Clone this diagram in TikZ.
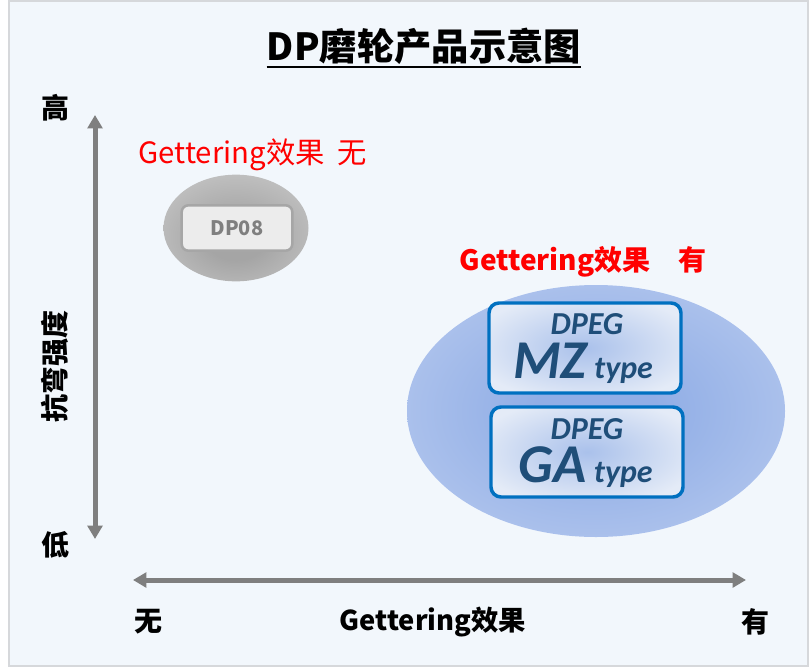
\documentclass[tikz,border=0pt]{standalone}
\usepackage{fontspec}
\setmainfont{Noto Sans CJK SC}
\newfontfamily\calib{Carlito}
\usepackage{tikz}
\usetikzlibrary{shapes.geometric,arrows.meta}

\definecolor{bgblue}{RGB}{242,247,252}
\definecolor{framegray}{RGB}{214,216,219}
\definecolor{axisgray}{RGB}{127,127,127}
\definecolor{boxblue}{RGB}{0,112,192}
\definecolor{textblue}{RGB}{31,78,121}
\definecolor{glowin}{RGB}{145,174,230}
\definecolor{glowout}{RGB}{207,219,244}
\definecolor{boxin}{RGB}{170,193,235}
\definecolor{boxout}{RGB}{228,235,247}
\definecolor{grayin}{RGB}{165,165,165}
\definecolor{grayout}{RGB}{220,220,220}

\pgfdeclareradialshading{blueglow}{\pgfpoint{0bp}{0bp}}{color(0bp)=(glowin); color(8bp)=(glowin); color(50bp)=(glowout); color(70bp)=(glowout)}
\pgfdeclareradialshading{boxglow}{\pgfpoint{0bp}{0bp}}{color(0bp)=(boxin); color(30bp)=(boxout); color(70bp)=(boxout)}
\pgfdeclareradialshading{grayglow}{\pgfpoint{0bp}{-6bp}}{color(0bp)=(grayin); color(10bp)=(grayin); color(50bp)=(grayout); color(70bp)=(grayout)}

\tikzset{
  axislabel/.style={inner sep=0.75pt, font=\fontsize{21}{21}\selectfont\bfseries},
  axisline/.style={draw=axisgray, line width=3.75pt, {Triangle[width=11pt,length=10pt]}-{Triangle[width=11pt,length=10pt]}},
  pbox/.style={draw=boxblue, line width=2.6pt, rounded corners=7.5pt, shading=boxglow, minimum width=144pt, minimum height=67.5pt, inner sep=0pt},
  ptext/.style={text=textblue, inner sep=0pt, font=\calib\bfseries\itshape\fontsize{24}{24}\selectfont},
}

\begin{document}
\begin{tikzpicture}[x=0.75pt,y=0.75pt,yscale=-1,xscale=1]
\path[use as bounding box] (0,0) rectangle (810,668);

%Background frame
\draw[draw=framegray, line width=1.5pt, fill=bgblue] (9,1) rectangle (808,666);

% Title
\node[inner sep=0pt, font=\fontsize{28}{28}\selectfont\bfseries] (title) at (424,46) {DP磨轮产品示意图};
\draw[line width=1.2pt] ([yshift=2pt]title.south west) -- ([yshift=2pt]title.south east);

%Axes
\coordinate (ytop) at (95,115);
\coordinate (ybot) at (95,539);
\coordinate (xleft) at (133,580);
\coordinate (xright) at (746,580);
\draw[axisline] (ytop) -- (ybot);
\draw[axisline] (xleft) -- (xright);

% Text Node
\node[axislabel] (high) at (55,108) {高};
% Text Node
\node[axislabel] (low) at (55,545) {低};
% Text Node
\node[axislabel, rotate=90] (strength) at (55,366) {抗弯强度};
% Text Node
\node[axislabel] (none) at (148,622) {无};
% Text Node
\node[axislabel] (have) at (755,622) {有};
% Text Node
\node[axislabel, font=\fontsize{20.5}{20.5}\selectfont\bfseries] (gett) at (433,622) {Gettering效果};

%Gray group
\node[ellipse, shading=grayglow, minimum width=108.75pt, minimum height=80pt] (grayell) at (236,228) {};
\node[draw={rgb,255:red,166;green,166;blue,166}, line width=1.9pt, rounded corners=5pt, fill={rgb,255:red,236;green,236;blue,236}, minimum width=83pt, minimum height=34pt, text={rgb,255:red,127;green,127;blue,127}, font=\fontsize{15}{15}\selectfont\bfseries] (dp08) at (237,228) {DP08};
% Text Node
\node[text=red, font=\fontsize{22}{22}\selectfont, inner sep=0.75pt] (nolabel) at (253,155) {Gettering效果\ \ 无};

%Blue group
\node[ellipse, shading=blueglow, minimum width=283.5pt, minimum height=189pt] (blueell) at (596,411) {};
\node[pbox] (mz) at (585,348) {};
\node[ptext] (mzhead) at ([xshift=1.5pt,yshift=-18pt]mz.center) {DPEG};
\node[ptext, anchor=base] (mztype) at ([xshift=-1.5pt,yshift=23pt]mz.center) {{\fontsize{41}{41}\selectfont MZ} type};
\node[pbox] (ga) at (587,452) {};
\node[ptext] (gahead) at ([xshift=0pt,yshift=-17pt]ga.center) {DPEG};
\node[ptext, anchor=base] (gatype) at ([xshift=-1pt,yshift=23pt]ga.center) {{\fontsize{41}{41}\selectfont GA} type};
% Text Node
\node[text=red, font=\fontsize{21}{21}\selectfont\bfseries, inner sep=0.75pt] (yeslabel) at (583,262) {Gettering效果\quad 有};

\end{tikzpicture}
\end{document}
